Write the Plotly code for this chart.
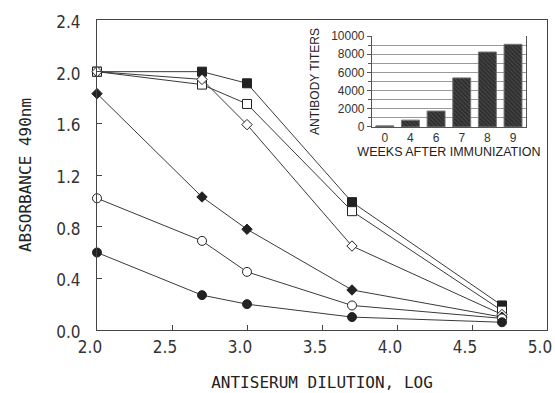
import plotly.graph_objects as go

# Main chart data
dilution_log = [2.0, 2.7, 3.0, 3.7, 4.7]
filled_square = [2.00, 2.00, 1.91, 0.99, 0.19]
open_square = [2.00, 1.90, 1.75, 0.92, 0.15]
open_diamond = [2.00, 1.94, 1.59, 0.65, 0.12]
filled_diamond = [1.83, 1.03, 0.78, 0.31, 0.10]
open_circle = [1.02, 0.69, 0.45, 0.19, 0.09]
filled_circle = [0.60, 0.27, 0.20, 0.10, 0.06]

# Inset data
weeks = ["0", "4", "6", "7", "8", "9"]
titers = [120, 750, 1750, 5400, 8250, 9100]

x_ticks = [2.0, 2.5, 3.0, 3.5, 4.0, 4.5, 5.0]
y_ticks = [0.0, 0.4, 0.8, 1.2, 1.6, 2.0, 2.4]
inset_y_ticks = [0, 2000, 4000, 6000, 8000, 10000]

LINE = "#3a3a3a"
TICKFONT = dict(family="Liberation Sans Narrow, DejaVu Sans Condensed, Roboto Condensed, Liberation Sans",
                size=17, color="#333")
TITLEFONT = dict(family="DejaVu Sans Mono, Liberation Mono", size=16, color="#222")
INSETFONT = dict(family="Liberation Sans, Arial", size=12, color="#333")

fig = go.Figure()

series = [
    (filled_square, "square", 9, "#222"),
    (open_square, "square", 9, "white"),
    (open_diamond, "diamond", 8, "white"),
    (filled_diamond, "diamond", 8, "#222"),
    (open_circle, "circle", 9, "white"),
    (filled_circle, "circle", 9, "#222"),
]
for vals, sym, size, fill in series:
    fig.add_trace(go.Scatter(
        x=dilution_log, y=vals, mode="lines+markers",
        line=dict(color=LINE, width=1),
        marker=dict(symbol=sym, size=size, color=fill, line=dict(color="#222", width=1)),
        showlegend=False, cliponaxis=False, xaxis="x", yaxis="y"))

fig.add_trace(go.Bar(
    x=weeks, y=titers, width=0.7,
    marker=dict(color="#2e2e2e", line=dict(color="#777", width=1),
                pattern=dict(shape="\\", fgcolor="#111", bgcolor="#444", size=3, solidity=0.5)),
    showlegend=False, xaxis="x2", yaxis="y2"))

fig.update_layout(
    width=555, height=393,
    margin=dict(l=97, r=8, t=20, b=63),
    paper_bgcolor="white", plot_bgcolor="white",
    xaxis=dict(range=[2.0, 5.0], tickvals=x_ticks, ticktext=[f"{v:.1f}" for v in x_ticks],
               ticks="inside", ticklen=5, tickcolor="#444", showgrid=False, zeroline=False,
               showline=True, linecolor="#444", linewidth=1, mirror=True,
               tickfont=TICKFONT, automargin=False, ticklabelshift=-7, ticklabelstandoff=2,
               title=dict(text="ANTISERUM DILUTION, LOG", font=TITLEFONT, standoff=20)),
    yaxis=dict(range=[0, 2.4], tickvals=y_ticks, ticktext=[f"{v:.1f}" for v in y_ticks],
               ticks="inside", ticklen=5, tickcolor="#444", showgrid=False, zeroline=False,
               showline=True, linecolor="#444", linewidth=1, mirror=True,
               tickfont=TICKFONT, automargin=False, ticklabelstandoff=12, ticklabelshift=2,
               title=dict(text="ABSORBANCE 490nm", font=TITLEFONT, standoff=20)),
    xaxis2=dict(domain=[0.611, 0.953], anchor="y2", type="category",
                showline=True, linecolor="#555", linewidth=1, mirror=False,
                ticks="", showgrid=False, tickfont=INSETFONT, automargin=False,
                title=dict(text="WEEKS AFTER IMMUNIZATION",
                           font=dict(family="Liberation Sans, Arial", size=12.5, color="#222"), standoff=2)),
    yaxis2=dict(domain=[0.655, 0.948], anchor="x2", range=[0, 10000],
                tickvals=inset_y_ticks, ticktext=[str(v) for v in inset_y_ticks],
                ticks="outside", ticklen=4, tickcolor="#555",
                minor=dict(dtick=1000, ticks="outside", ticklen=3, tickcolor="#555",
                           showgrid=True, gridcolor="#999", gridwidth=0.7),
                showgrid=True, gridcolor="#999", gridwidth=0.7, zeroline=False,
                showline=True, linecolor="#555", linewidth=1, mirror=True,
                tickfont=INSETFONT, automargin=False,
                title=dict(text="ANTIBODY TITERS",
                           font=dict(family="Liberation Sans, Arial", size=12, color="#222"), standoff=8)),
)

fig.write_html("out.html", config={"displayModeBar": False},
               post_script="document.body.style.margin='0';")
